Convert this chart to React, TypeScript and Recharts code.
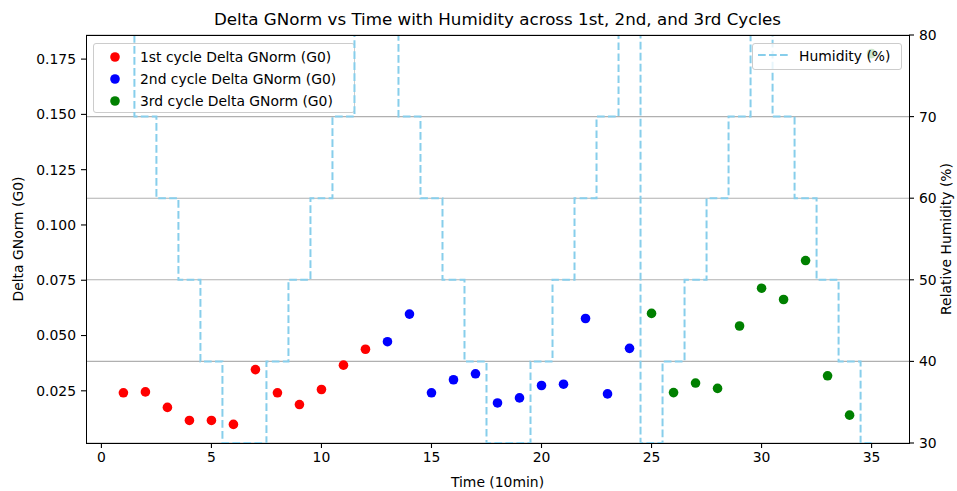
import React from 'react';
import { ComposedChart, Scatter, Line, XAxis, YAxis, CartesianGrid } from 'recharts';

const FONT = '"DejaVu Sans", Verdana, sans-serif';

// Delta GNorm (G0) per cycle, sampled every 10 min
const cycle1Time = [1, 2, 3, 4, 5, 6, 7, 8, 9, 10, 11, 12];
const cycle1Delta = [0.0241, 0.0245, 0.0175, 0.0116, 0.0116, 0.0098, 0.0346, 0.0241, 0.0188, 0.0256, 0.0366, 0.0438];

const cycle2Time = [13, 14, 15, 16, 17, 18, 19, 20, 21, 22, 23, 24];
const cycle2Delta = [0.0472, 0.0597, 0.0241, 0.03, 0.0327, 0.0195, 0.0218, 0.0274, 0.028, 0.0577, 0.0236, 0.0442];

const cycle3Time = [25, 26, 27, 28, 29, 30, 31, 32, 33, 34, 35];
const cycle3Delta = [0.06, 0.0242, 0.0285, 0.0261, 0.0543, 0.0714, 0.0663, 0.0839, 0.0318, 0.014, 0.1775];

// Relative humidity set-points (%)
const humidityTime = [
  1, 2, 3, 4, 5, 6, 7, 8, 9, 10, 11, 12, 13, 14, 15, 16, 17, 18, 19, 20, 21, 22, 23, 24, 25, 26, 27, 28, 29, 30, 31,
  32, 33, 34, 35,
];
const humidity = [
  80, 70, 60, 50, 40, 30, 30, 40, 50, 60, 70, 80, 80, 70, 60, 50, 40, 30, 30, 40, 50, 60, 70, 80, 30, 40, 50, 60, 70,
  80, 70, 60, 50, 40, 30,
];

const timeTicks = [0, 5, 10, 15, 20, 25, 30, 35];
const deltaTicks = [0.025, 0.05, 0.075, 0.1, 0.125, 0.15, 0.175];
const humidityTicks = [30, 40, 50, 60, 70, 80];

const zip = (t: number[], v: number[]) => t.map((x, i) => ({ t: x, v: v[i] }));
const c1 = zip(cycle1Time, cycle1Delta);
const c2 = zip(cycle2Time, cycle2Delta);
const c3 = zip(cycle3Time, cycle3Delta);
const humData = humidityTime.map((x, i) => ({ t: x, h: humidity[i] }));

const W = 957;
const H = 491;
const PLOT = { left: 86, top: 35, right: 909, bottom: 443 };

const RED = '#ff0000';
const BLUE = '#0000ff';
const GREEN = '#008000';
const SKY = '#87ceeb';

const dot = (color: string) => (props: any) => (
  <circle cx={props.cx} cy={props.cy} r={4.8} fill={color} />
);

const tickStyle = { fontSize: 13.9, fill: '#000', fontFamily: FONT };

const legendBox: React.CSSProperties = {
  position: 'absolute',
  background: 'rgba(255,255,255,0.8)',
  border: '1px solid #cccccc',
  borderRadius: 3,
  boxSizing: 'border-box',
  fontFamily: FONT,
  fontSize: 13.9,
  color: '#000',
};

const cycleLegend = [
  { label: '1st cycle Delta GNorm (G0)', color: RED },
  { label: '2nd cycle Delta GNorm (G0)', color: BLUE },
  { label: '3rd cycle Delta GNorm (G0)', color: GREEN },
];

export default function App() {
  return (
    <div style={{ position: 'absolute', left: 0, top: 0, width: W, height: H, background: '#fff', fontFamily: FONT }}>
      {/* cycle legend sits under the humidity trace */}
      <div style={{ ...legendBox, left: 93, top: 43, width: 262, height: 70, zIndex: 0 }}>
        {cycleLegend.map((e, i) => (
          <div key={e.label} style={{ position: 'absolute', left: 0, top: 2 + i * 22, height: 22, width: '100%' }}>
            <svg width={30} height={22} style={{ position: 'absolute', left: 10, top: 0 }}>
              <circle cx={11} cy={11} r={4.8} fill={e.color} />
            </svg>
            <span style={{ position: 'absolute', left: 46, top: 2, whiteSpace: 'nowrap', lineHeight: '18px' }}>
              {e.label}
            </span>
          </div>
        ))}
      </div>

      <div style={{ position: 'absolute', left: 0, top: 0, zIndex: 1 }}>
        <ComposedChart width={W} height={H} data={humData} margin={{ top: PLOT.top, right: 0, bottom: 0, left: 0 }}>
          <CartesianGrid yAxisId="right" vertical={false} stroke="#b0b0b0" strokeWidth={1.1} />
          <XAxis
            dataKey="t"
            type="number"
            domain={[-0.7, 36.7]}
            ticks={timeTicks}
            allowDataOverflow
            height={H - PLOT.bottom}
            axisLine={false}
            tickLine={{ stroke: '#000', strokeWidth: 1.1 }}
            tickSize={5}
            tickMargin={4}
            tick={tickStyle}
          />
          <YAxis
            yAxisId="left"
            type="number"
            domain={[0.0014, 0.1859]}
            ticks={deltaTicks}
            allowDataOverflow
            width={PLOT.left}
            axisLine={false}
            tickLine={{ stroke: '#000', strokeWidth: 1.1 }}
            tickSize={5}
            tickMargin={5}
            tick={tickStyle}
            tickFormatter={(v: number) => v.toFixed(3)}
          />
          <YAxis
            yAxisId="right"
            orientation="right"
            type="number"
            domain={[30, 80]}
            ticks={humidityTicks}
            allowDataOverflow
            width={W - PLOT.right}
            axisLine={false}
            tickLine={{ stroke: '#000', strokeWidth: 1.1 }}
            tickSize={5}
            tickMargin={5}
            tick={tickStyle}
          />
          <Scatter yAxisId="left" data={c1} dataKey="v" fill={RED} shape={dot(RED)} isAnimationActive={false} />
          <Scatter yAxisId="left" data={c2} dataKey="v" fill={BLUE} shape={dot(BLUE)} isAnimationActive={false} />
          <Scatter yAxisId="left" data={c3} dataKey="v" fill={GREEN} shape={dot(GREEN)} isAnimationActive={false} />
          <Line
            yAxisId="right"
            type="step"
            dataKey="h"
            stroke={SKY}
            strokeWidth={2}
            strokeDasharray="7.7 3.3"
            dot={false}
            activeDot={false}
            isAnimationActive={false}
          />
        </ComposedChart>
      </div>

      {/* axes frame */}
      <div
        style={{
          position: 'absolute',
          left: PLOT.left - 0.5,
          top: PLOT.top - 0.5,
          width: PLOT.right - PLOT.left + 1,
          height: PLOT.bottom - PLOT.top + 1,
          border: '1.1px solid #000',
          boxSizing: 'border-box',
          zIndex: 2,
          pointerEvents: 'none',
        }}
      />

      {/* humidity legend */}
      <div style={{ ...legendBox, left: 752, top: 43, width: 150, height: 27, zIndex: 3 }}>
        <svg width={40} height={25} style={{ position: 'absolute', left: 0, top: 0 }}>
          <line x1={5} y1={11} x2={35} y2={11} stroke={SKY} strokeWidth={2} strokeDasharray="7.7 3.3" />
        </svg>
        <span style={{ position: 'absolute', left: 46, top: 3, whiteSpace: 'nowrap', lineHeight: '18px' }}>
          Humidity (%)
        </span>
      </div>

      <div
        style={{
          position: 'absolute',
          left: (PLOT.left + PLOT.right) / 2,
          top: 19,
          transform: 'translate(-50%, -50%)',
          fontSize: 16.7,
          whiteSpace: 'nowrap',
          zIndex: 3,
        }}
      >
        Delta GNorm vs Time with Humidity across 1st, 2nd, and 3rd Cycles
      </div>
      <div
        style={{
          position: 'absolute',
          left: (PLOT.left + PLOT.right) / 2,
          top: 482,
          transform: 'translate(-50%, -50%)',
          fontSize: 13.9,
          whiteSpace: 'nowrap',
          zIndex: 3,
        }}
      >
        Time (10min)
      </div>
      <div
        style={{
          position: 'absolute',
          left: 18,
          top: (PLOT.top + PLOT.bottom) / 2,
          transform: 'translate(-50%, -50%) rotate(-90deg)',
          fontSize: 13.9,
          whiteSpace: 'nowrap',
          zIndex: 3,
        }}
      >
        Delta GNorm (G0)
      </div>
      <div
        style={{
          position: 'absolute',
          left: 946,
          top: (PLOT.top + PLOT.bottom) / 2,
          transform: 'translate(-50%, -50%) rotate(-90deg)',
          fontSize: 13.9,
          whiteSpace: 'nowrap',
          zIndex: 3,
        }}
      >
        Relative Humidity (%)
      </div>
    </div>
  );
}
